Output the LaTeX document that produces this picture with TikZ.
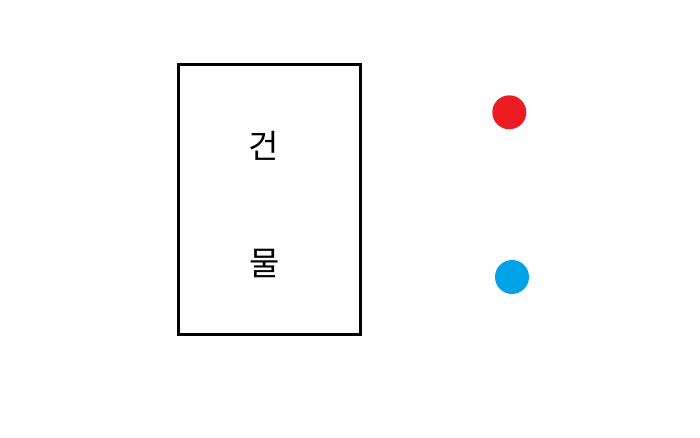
\documentclass[tikz,border=0pt]{standalone}
\usepackage{fontspec}
\newfontfamily\krfont{Noto Sans CJK KR}
\begin{document}
\begin{tikzpicture}[x=1pt, y=-1pt,
  dot/.style={circle, inner sep=0pt, minimum size=34pt},
  label/.style={font=\krfont\fontsize{33}{33}\selectfont, inner sep=0pt}]
\useasboundingbox (0,0) rectangle (700,437);
\node[draw, line width=3pt, minimum width=182pt, minimum height=270pt, inner sep=0pt] (building) at (269.5,199) {};
\node[label] (geon) at (264,145.5) {건};
\node[label] (mul) at (264.5,263) {물};
\node[dot, fill={rgb,255:red,237;green,28;blue,36}] (reddot) at (509.3,112.3) {};
\node[dot, fill={rgb,255:red,0;green,162;blue,232}] (bluedot) at (512,277) {};
\end{tikzpicture}
\end{document}
